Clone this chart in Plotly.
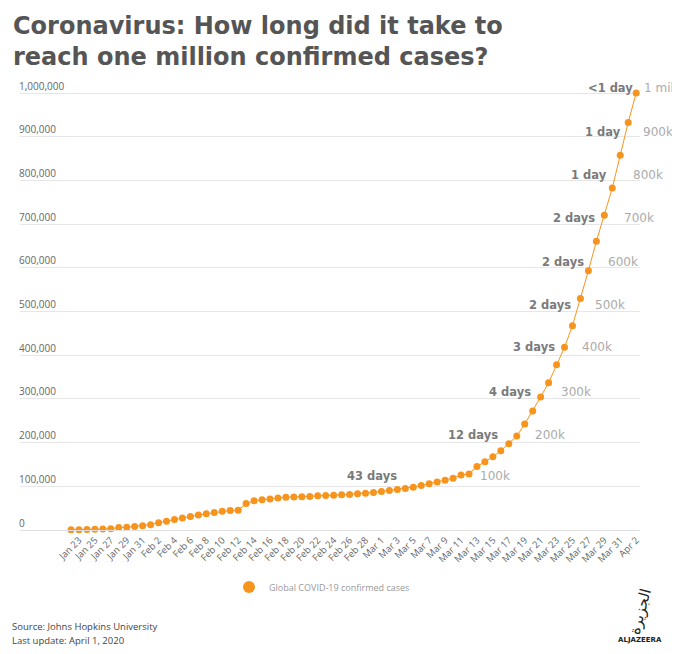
import pandas as pd
import plotly.graph_objects as go

# ---------------- data ----------------
start_date = "2020-01-22"
end_date = "2020-04-02"
cases = [
    555, 654, 941, 1434, 2118, 2927, 5578, 6166, 8234, 9927,
    12038, 16787, 19881, 23892, 27635, 30794, 34391, 37120, 40150, 42762,
    44802, 45221, 60368, 66885, 69030, 71224, 73258, 75136, 75639, 76197,
    76819, 78572, 78958, 79561, 80406, 81388, 82746, 84112, 86011, 88369,
    90306, 92840, 95120, 97886, 101801, 105847, 109821, 113590, 118620, 125875,
    128352, 145205, 156101, 167454, 181574, 197102, 214821, 242570, 272208, 304507,
    336953, 378235, 418045, 467653, 529591, 593291, 660706, 720117, 782365, 857487,
    932605, 1000000,
]
milestones = [100000, 200000, 300000, 400000, 500000, 600000, 700000, 800000, 900000, 1000000]
milestone_labels = ["100k", "200k", "300k", "400k", "500k", "600k", "700k", "800k", "900k", "1 million"]
days_labels = ["43 days", "12 days", "4 days", "3 days", "2 days", "2 days", "2 days", "1 day", "1 day", "<1 day"]
y_tickvals = [0, 100000, 200000, 300000, 400000, 500000, 600000, 700000, 800000, 900000, 1000000]
series_name = "Global COVID-19 confirmed cases"

# ---------------- label placement (layout only, in days after start) ----------------
days_label_right_day = [41.2, 53.9, 58.0, 61.1, 63.1, 64.7, 66.1, 67.6, 69.3, 70.9]
milestone_label_left_day = [51.1, 58.0, 61.3, 63.9, 65.6, 67.2, 69.2, 70.4, 71.6, 71.7]
label_yshift = [10, 8, 7, 8, 7, 6, 6, 5, 5, 5]

dates = pd.date_range(start_date, end_date, freq="D")
base = pd.Timestamp(start_date)
tick_dates = pd.date_range("2020-01-23", end_date, freq="2D")
tick_text = [f"{d.strftime('%b')} {d.day}" for d in tick_dates]

ORANGE = "#f7941d"

fig = go.Figure()
fig.add_trace(go.Scatter(
    x=dates, y=cases, mode="lines",
    line=dict(color=ORANGE, width=1), showlegend=False, hoverinfo="skip",
    cliponaxis=False,
))
fig.add_trace(go.Scatter(
    x=dates, y=cases, mode="markers", name=series_name,
    marker=dict(color=ORANGE, size=7), cliponaxis=False,
))

# layout geometry: the page body adds an 8px margin, so the figure is drawn
# 8px right/down of the window origin. Positions below are in window pixels.
OFF = 8
W, H = 680 - 2 * OFF, 654 - 2 * OFF
PL, PR, PT, PB = 20, 640, 84, 530          # plot area in window pixels
L, R, T, B = PL - OFF, W - (PR - OFF), PT - OFF, H - (PB - OFF)
pw, ph = W - L - R, H - T - B
DAY_PX = 7.96
FIRST_PX = 71
range_lo_days = -(FIRST_PX - PL) / DAY_PX
range_hi_days = (PR - FIRST_PX) / DAY_PX


def px(x):
    return (x - PL) / pw


def py(y):
    return (PB - y) / ph


def dayx(offset):
    return (offset - range_lo_days) / (range_hi_days - range_lo_days)


annotations = []
for lvl, dl, ml, dx, mx, ys in zip(milestones, days_labels, milestone_labels,
                                    days_label_right_day, milestone_label_left_day, label_yshift):
    annotations.append(dict(
        x=dayx(dx), y=lvl, xref="paper", yref="y", text=f"<b>{dl}</b>", showarrow=False,
        xanchor="right", yanchor="middle", yshift=ys,
        font=dict(family="DejaVu Sans", size=11.5, color="#7a7a7a"),
    ))
    annotations.append(dict(
        x=dayx(mx), y=lvl, xref="paper", yref="y", text=ml, showarrow=False,
        xanchor="left", yanchor="middle", yshift=ys,
        font=dict(family="DejaVu Sans", size=12, color="#ababab"),
    ))

annotations += [
    dict(x=px(11), y=py(10), xref="paper", yref="paper",
         text="Coronavirus: How long did it take to<br>reach one million confirmed cases?",
         showarrow=False, xanchor="left", yanchor="top", align="left",
         font=dict(family="DejaVu Sans", size=24, color="#555555", weight="bold")),
    dict(x=px(10), y=py(626), xref="paper", yref="paper", text="Source: Johns Hopkins University",
         showarrow=False, xanchor="left", yanchor="middle",
         font=dict(family="Open Sans", size=9.5, color="#444")),
    dict(x=px(10), y=py(640), xref="paper", yref="paper", text="Last update: April 1, 2020",
         showarrow=False, xanchor="left", yanchor="middle",
         font=dict(family="Open Sans", size=9.5, color="#444")),
    dict(x=px(640), y=py(612), xref="paper", yref="paper", text="الجزيرة",
         showarrow=False, xanchor="center", yanchor="middle", textangle=-75,
         font=dict(family="DejaVu Sans", size=15, color="#222")),
    dict(x=px(640), y=py(640), xref="paper", yref="paper", text="<b>ALJAZEERA</b>",
         showarrow=False, xanchor="center", yanchor="middle",
         font=dict(family="DejaVu Sans", size=7, color="#222")),
]

x_start = base + pd.Timedelta(days=range_lo_days)
x_end = base + pd.Timedelta(days=range_hi_days)

fig.update_layout(
    width=W, height=H,
    margin=dict(l=L, r=R, t=T, b=B, autoexpand=False),
    paper_bgcolor="white", plot_bgcolor="white",
    xaxis=dict(
        type="date", range=[x_start, x_end], automargin=False,
        tickvals=list(tick_dates), ticktext=tick_text, tickangle=-45,
        showgrid=False, showline=True, linecolor="#e0e0e0", linewidth=1,
        ticks="", tickfont=dict(family="Open Sans", size=9.5, color="#666"),
        zeroline=False,
    ),
    yaxis=dict(
        range=[0, 1000000 * (PB - PT) / (PB - 93)], tickvals=y_tickvals, tickformat=",d",
        automargin=False,
        showgrid=True, gridcolor="#e6e6e6", gridwidth=1,
        ticklabelposition="inside top", ticklabeloverflow="allow", ticklabelstandoff=-4,
        zeroline=False,
        tickfont=dict(family="Open Sans", size=10, color="#666"),
    ),
    legend=dict(
        orientation="h", x=px(229), xanchor="left", y=py(587), yanchor="middle",
        font=dict(family="Open Sans", size=9, color="#999"),
        itemsizing="constant", bgcolor="rgba(0,0,0,0)",
    ),
    annotations=annotations,
    showlegend=True,
)

fig.write_html("out.html")
